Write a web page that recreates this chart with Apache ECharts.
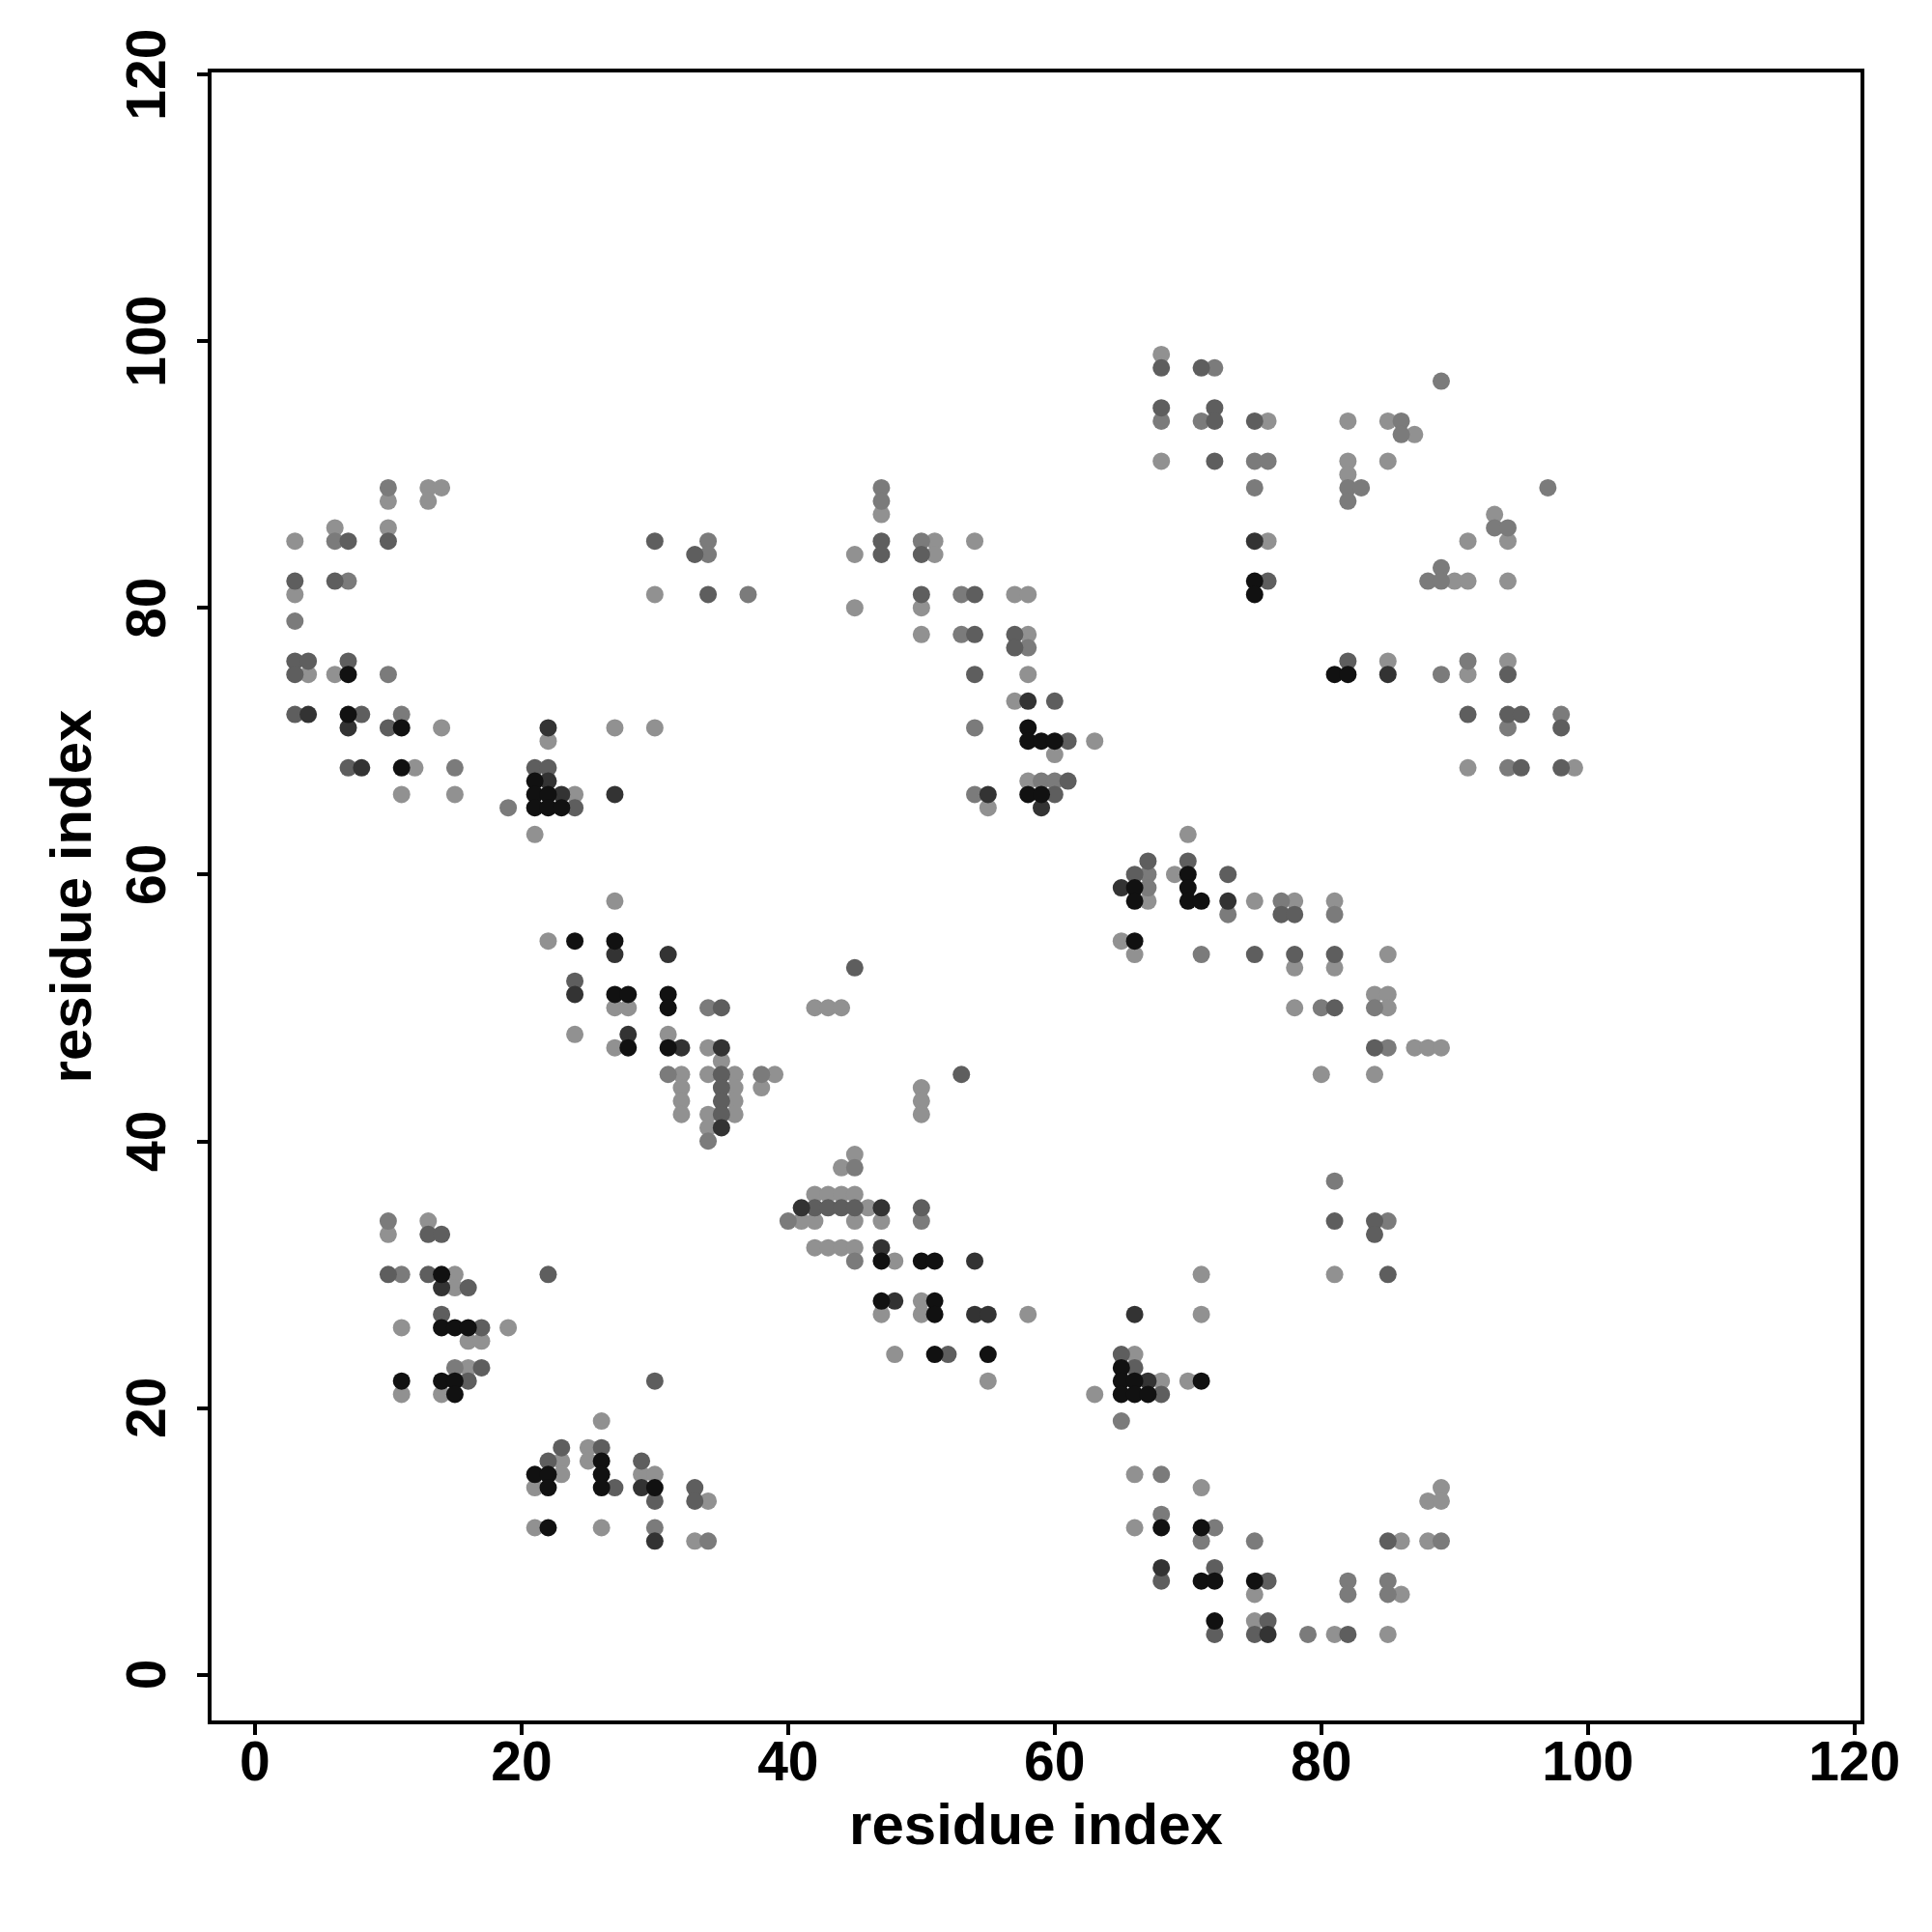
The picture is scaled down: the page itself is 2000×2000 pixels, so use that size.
<!DOCTYPE html>
<html><head><meta charset="utf-8">
<script src="https://cdn.jsdelivr.net/npm/echarts@6/dist/echarts.min.js"></script>
<style>html,body{margin:0;padding:0;background:#fff}#chart{width:2000px;height:2000px}</style>
</head><body><div id="chart"></div>
<script>
// Tick labels
const tickValues = [0, 20, 40, 60, 80, 100, 120];
const axisTitle = 'residue index';

// Contacts, grouped by gray level (darkest = strongest)
const blackPts = [
[14,26],[15,26],[16,26],[11,22],[14,22],[15,22],[15,21],[26,16],[21,15],[22,15],[26,15],[22,14],[26,14],[30,14],[22,11],
[14,30],[27,51],[28,51],[31,51],[31,50],[28,47],[31,47],
[7,75],[7,72],[11,71],[11,68],[21,67],[21,66],[22,66],[21,65],[22,65],[23,65],[24,55],[27,55],
[51,24],[55,24],[65,23],[65,22],[66,22],[71,22],[65,21],[66,21],[67,21],[68,11],[71,11],[71,7],[72,7],[75,7],[72,4],
[47,31],[50,31],[51,31],[47,28],[51,28],[51,27],
[58,71],[58,70],[59,70],[60,70],[58,66],[59,66],[70,60],[66,59],[70,59],[66,58],[70,58],[71,58],[66,55],
[81,75],[82,75],[75,82],[75,81]
];
const darkPts = [
[29,14],[30,10],[14,29],[24,51],[28,48],[32,47],[35,47],[35,41],
[4,72],[7,71],[22,71],[8,68],[22,67],[23,66],[27,66],[27,54],[31,54],
[67,22],[68,8],[76,3],
[41,35],[47,35],[47,32],[54,31],[48,28],[54,27],[55,27],[66,27],
[58,73],[55,66],[59,65],[65,59],[73,58],
[85,75],[75,85]
];
const midPts = [
[17,26],[17,23],[16,22],[30,22],[23,17],[26,17],[22,16],[29,16],[27,14],[33,14],[30,13],[33,13],
[13,33],[14,33],[10,30],[13,30],[22,30],[16,29],[14,27],[24,52],[35,50],[35,45],[35,44],[35,43],[35,42],
[3,76],[4,76],[7,76],[3,75],[3,72],[8,72],[10,71],[7,68],[21,68],[22,68],[24,65],
[7,85],[10,85],[3,82],[6,82],[30,85],[33,84],[34,81],
[52,24],[65,24],[66,23],[68,21],[72,8],[68,7],[76,7],[76,4],[72,3],[75,3],[82,3],[85,10],
[45,53],[53,45],[42,35],[43,35],[44,35],[45,35],[50,35],
[81,50],[84,47],[81,34],[84,34],[84,33],[85,30],
[54,75],[60,73],[61,70],[61,67],[60,66],[67,61],[70,61],[66,60],
[73,60],[77,57],[78,57],[75,54],[78,54],[81,54],[82,76],[94,75],[91,72],[94,72],[95,72],[98,71],[95,68],[98,68],
[47,85],[47,84],[50,84],[50,81],[54,81],[54,78],[57,78],[57,77],
[68,98],[71,98],[68,95],[72,95],[72,94],[75,94],[72,91],[76,82]
];
const grayPts = [
[15,23],[30,11],[34,10],[10,34],[11,30],[34,50],[31,45],[38,45],[34,40],
[10,75],[11,72],[15,68],[19,65],
[10,89],[6,85],[7,82],[3,79],[34,85],[34,84],[37,81],
[65,19],[68,15],[68,12],[72,11],[71,10],[75,10],[82,7],[85,7],[82,6],[85,6],[79,3],[89,10],
[45,38],[40,34],[50,34],[45,31],
[80,50],[84,50],[85,47],[81,37],[85,34],
[54,71],[59,67],[60,67],[54,66],[67,60],[67,59],
[77,58],[73,57],[81,57],[71,54],[91,76],[89,75],[98,72],[94,71],[94,68],
[47,89],[47,88],[50,85],[53,81],[53,78],[58,77],
[72,98],[89,97],[68,94],[71,94],[86,94],[86,93],[75,91],[76,91],[75,89],[82,89],[83,89],[97,89],[82,88],[93,86],[94,86],[89,83],[88,82],[89,82]
];
const lightPts = [
[11,26],[19,26],[16,25],[17,25],[16,23],[11,21],[14,21],[26,19],[25,17],[23,16],[25,16],[23,15],[29,15],[30,15],[21,14],[34,13],[21,11],[26,11],[33,10],
[13,34],[10,33],[15,30],[15,29],[27,50],[28,50],[24,48],[31,48],[27,47],[34,47],[35,46],[32,45],[34,45],[32,44],[32,43],[32,42],[34,42],[34,41],[36,45],[36,44],[36,43],[36,42],[39,45],[38,44],
[4,75],[6,75],[14,71],[27,71],[30,71],[22,70],[12,68],[11,66],[15,66],[24,66],[21,63],[27,58],[22,55],
[13,89],[14,89],[10,88],[13,88],[6,86],[10,86],[3,85],[3,81],[30,81],
[48,24],[55,22],[66,24],[68,22],[70,22],[63,21],[66,15],[71,14],[66,11],[75,6],[86,6],[75,4],[81,3],[85,3],[89,14],[88,13],[89,13],[86,10],[88,10],
[42,50],[43,50],[44,50],[50,44],[50,43],[50,42],[45,39],[44,38],[42,36],[43,36],[44,36],[45,36],[46,35],[41,34],[42,34],[45,34],[47,34],[42,32],[43,32],[44,32],[45,32],[48,31],[50,28],[47,27],[50,27],[58,27],[71,30],[71,27],
[84,51],[85,51],[78,50],[85,50],[87,47],[88,47],[89,47],[80,45],[84,45],[81,30],
[58,75],[57,73],[63,70],[60,69],[58,67],[55,65],[70,63],[69,60],[67,58],[65,55],[66,54],
[75,58],[78,58],[81,58],[85,54],[78,53],[81,53],[85,76],[94,76],[91,75],[91,68],[99,68],
[47,87],[51,85],[54,85],[45,84],[51,84],[57,81],[58,81],[45,80],[50,80],[50,78],[58,78],
[68,99],[76,94],[82,94],[85,94],[87,93],[68,91],[82,91],[85,91],[82,90],[93,87],[76,85],[91,85],[94,85],[90,82],[91,82],[94,82]
];

const chart = echarts.init(document.getElementById('chart'), null, {renderer: 'canvas'});
const font = 'Liberation Sans';
const mk = (data, color) => ({
  type: 'scatter', data: data, symbol: 'circle', symbolSize: 18,
  itemStyle: {color: color, opacity: 1}, silent: true, animation: false
});
const labelStyle = {fontSize: 57, fontWeight: 'bold', fontFamily: font, color: '#000'};
const titleStyle = {fontSize: 60, fontWeight: 'bold', fontFamily: font, color: '#000'};
chart.setOption({
  animation: false,
  backgroundColor: '#fff',
  grid: {left: 217, top: 73, width: 1711, height: 1710, show: true, borderColor: '#000', borderWidth: 4, backgroundColor: 'rgba(0,0,0,0)'},
  xAxis: {
    type: 'value', min: -3.4, max: 120.6,
    axisLine: {show: false, onZero: false}, splitLine: {show: false},
    axisTick: {show: true, length: 13, lineStyle: {color: '#000', width: 4}, customValues: tickValues},
    axisLabel: Object.assign({customValues: tickValues, margin: 16}, labelStyle),
    name: axisTitle, nameLocation: 'middle', nameGap: 79,
    nameTextStyle: titleStyle
  },
  yAxis: {
    type: 'value', min: -3.6, max: 120.3,
    axisLine: {show: false, onZero: false}, splitLine: {show: false},
    axisTick: {show: true, length: 13, lineStyle: {color: '#000', width: 4}, customValues: tickValues},
    axisLabel: Object.assign({customValues: tickValues, margin: 33, rotate: 90}, labelStyle),
    name: axisTitle, nameLocation: 'middle', nameGap: 110,
    nameTextStyle: titleStyle
  },
  series: [
    mk(lightPts, '#919191'),
    mk(grayPts, '#7b7b7b'),
    mk(midPts, '#5e5e5e'),
    mk(darkPts, '#333333'),
    mk(blackPts, '#111111')
  ]
});
</script>
</body></html>
